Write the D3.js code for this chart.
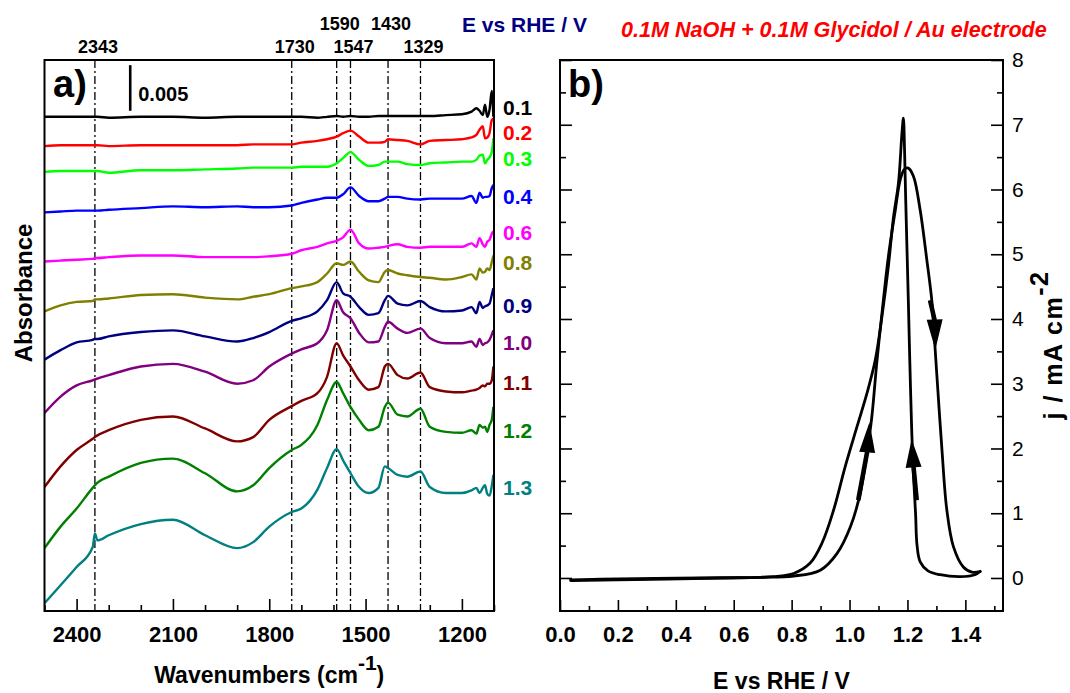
<!DOCTYPE html>
<html>
<head>
<meta charset="utf-8">
<script src="https://cdn.jsdelivr.net/npm/d3@7"></script>
<style>
  body { margin: 0; background: #fff; }
  svg { display: block; font-family: "Liberation Sans", Arial, Helvetica, sans-serif; }
</style>
</head>
<body>
<svg id="chart" width="1070" height="693"></svg>
<script>
// ---------- data : panel a (in-situ FTIR spectra, offset absorbance x10^-3) ----------
var wavenumbers = [2500,2450,2400,2350,2343,2335,2300,2200,2100,2000,1900,1850,1800,1730,1700,1650,1620,1590,1570,1547,1520,1490,1460,1440,1430,1400,1370,1329,1300,1250,1200,1170,1155,1145,1135,1128,1121,1114,1107,1102];

var s01 = [57.4,57.4,57.4,57.4,57.4,57.4,57.3,57.4,57.4,57.3,57.4,57.4,57.4,57.4,57.4,57.3,57.4,57.5,57.4,57.5,57.4,57.4,57.5,57.5,57.5,57.5,57.5,57.5,57.5,57.6,57.7,58.0,58.4,58.1,57.6,58.8,57.4,58.2,60.4,57.4];
var s02 = [54.0,54.1,54.1,54.1,54.1,54.1,54.0,54.1,54.1,54.1,54.1,54.2,54.2,54.2,54.4,54.6,54.8,55.1,55.5,55.8,55.1,54.4,54.4,54.5,54.8,54.7,54.6,54.2,54.6,54.7,54.8,55.0,55.3,55.9,56.3,54.9,55.0,55.5,57.0,57.2];
var s03 = [51.0,51.1,51.1,51.1,51.1,51.1,50.9,51.2,51.2,51.3,51.4,51.5,51.5,51.5,51.6,51.6,51.6,52.0,52.6,53.3,52.4,51.7,51.8,52.2,52.2,52.2,51.9,51.8,52.0,52.1,52.2,52.2,52.4,52.9,53.0,52.0,52.4,52.7,53.3,54.9];
var s04 = [46.3,46.4,46.5,46.5,46.5,46.5,46.6,46.8,47.0,46.9,47.0,46.9,46.9,47.1,47.4,47.8,48.0,48.0,48.4,49.2,48.2,47.6,47.6,47.9,48.1,48.1,47.9,47.8,47.9,47.9,47.9,48.2,47.4,48.6,48.0,48.1,48.1,48.2,49.1,49.5];
var s06 = [40.6,40.7,40.8,40.9,41.0,41.0,41.1,41.3,41.3,41.1,41.1,41.1,41.2,41.5,41.9,42.3,42.7,43.0,43.4,44.3,42.7,42.1,42.2,42.3,42.4,42.6,42.3,42.2,42.3,42.3,42.3,42.7,42.3,43.3,42.6,42.3,42.9,43.1,43.8,44.1];
var s08 = [34.8,35.5,35.9,36.0,36.2,36.2,36.3,36.7,36.8,36.4,36.2,36.5,36.8,37.5,37.7,38.2,39.2,40.4,40.2,40.6,39.4,38.4,38.2,39.4,39.6,39.2,39.0,38.8,38.7,38.5,38.8,39.1,38.5,39.8,39.3,39.4,39.8,39.6,40.5,41.3];
var s09 = [29.2,30.3,31.2,31.5,31.6,31.6,31.9,32.4,32.6,31.9,31.3,31.7,32.4,33.7,34.0,34.8,36.1,38.2,36.9,36.5,35.3,34.4,34.6,36.1,36.6,35.7,35.5,36.0,35.3,34.8,34.9,35.3,34.6,35.9,35.2,35.4,35.5,35.7,36.7,37.5];
var s10 = [23.0,24.9,26.2,26.8,26.9,27.0,27.4,28.4,28.7,27.8,26.4,26.8,28.4,29.9,30.4,31.1,32.6,36.1,34.7,34.0,32.3,31.2,31.3,33.0,33.6,32.8,32.3,32.8,31.7,31.1,31.1,31.3,30.7,31.6,30.9,31.1,31.2,31.5,32.1,32.6];
var s11 = [14.4,16.8,18.7,20.0,20.2,20.4,21.0,22.2,22.6,21.2,19.7,20.2,22.2,23.8,24.4,25.3,27.2,31.1,29.7,28.4,26.8,25.7,26.0,28.4,28.7,27.4,27.0,27.7,26.0,25.5,25.4,25.6,25.7,25.9,26.2,26.1,26.4,26.4,26.8,28.4];
var s12 = [7.3,9.8,11.9,14.3,14.6,14.9,15.6,17.2,17.7,16.0,13.9,14.6,16.6,18.7,19.3,21.6,24.5,26.6,25.3,23.7,22.2,21.0,21.4,23.7,24.2,22.8,22.6,23.5,21.4,20.8,20.7,21.0,20.6,21.6,21.3,21.4,20.8,21.6,22.2,23.7];
var s13 = [0.9,3.0,5.1,7.4,9.0,8.2,8.8,10.1,10.6,8.8,7.3,8.0,9.8,11.5,11.9,14.1,16.6,18.8,17.5,16.0,14.4,13.7,14.3,16.8,16.6,15.8,15.6,16.2,14.4,13.7,13.7,14.0,14.3,13.7,14.3,14.6,13.6,13.4,14.5,15.8];

var spectra = [s01,s02,s03,s04,s06,s08,s09,s10,s11,s12,s13];
var potentials = ['0.1','0.2','0.3','0.4','0.6','0.8','0.9','1.0','1.1','1.2','1.3'];
var labelLevels = [58.5,55.6,52.6,48.2,44.0,40.5,35.5,31.2,26.5,21.0,14.3];
var spectraColors = ['#000000','#ff0000','#00ff00','#0000ff','#ff00ff','#808000','#000080','#800080','#800000','#008000','#008080'];

var peakLines = [2343,1730,1590,1547,1430,1329];
var upperPeaks = [1590,1430];
var majorWn = [2400,2100,1800,1500,1200];
var minorWn = [2500,2300,2200,2000,1900,1700,1600,1400,1300,1100];

// ---------- data : panel b (cyclic voltammogram) ----------
var forwardE = [0.037,0.313,0.554,0.692,0.807,0.899,0.957,1.003,1.037,1.060,1.077,1.094,1.112,1.134,1.158,1.175,1.189,1.203,1.221,1.244,1.267,1.284,1.292,1.301,1.319,1.336,1.359,1.393,1.423,1.451];
var forwardJ = [-0.04,-0.02,0.0,0.01,0.03,0.12,0.38,0.79,1.31,1.93,2.49,3.32,4.09,4.96,5.68,6.15,6.31,6.33,6.20,5.68,4.91,4.29,3.78,3.17,1.99,1.05,0.48,0.17,0.09,0.10];
var reverseE = [1.451,1.433,1.382,1.313,1.271,1.244,1.233,1.228,1.220,1.215,1.208,1.203,1.194,1.190,1.186,1.181,1.169,1.152,1.134,1.112,1.089,1.060,1.026,0.985,0.945,0.905,0.864,0.807,0.737,0.692,0.485,0.140,0.037];
var reverseJ = [0.10,0.05,0.02,0.05,0.11,0.25,0.51,1.00,1.67,2.24,3.37,4.29,5.84,6.61,7.10,6.87,6.10,5.58,4.81,4.04,3.37,2.85,2.34,1.72,1.05,0.54,0.23,0.07,0.02,0.01,0.0,-0.02,-0.03];

// scan-direction arrows: tail start, arrow base, arrow tip (E, j)
var arrows = [
  {tail:[1.030,1.20], base:[1.061,1.95], tip:[1.068,2.36]},
  {tail:[1.232,1.20], base:[1.221,1.72], tip:[1.215,2.10]},
  {tail:[1.278,4.29], base:[1.294,3.98], tip:[1.296,3.57]}
];

var eTicks = [0,0.2,0.4,0.6,0.8,1.0,1.2,1.4];
var eMinor = [0.1,0.3,0.5,0.7,0.9,1.1,1.3,1.5];
var jTicks = [0,1,2,3,4,5,6,7,8];
var jMinor = [-0.5,0.5,1.5,2.5,3.5,4.5,5.5,6.5,7.5];

// ---------- drawing ----------
var svg = d3.select('#chart');

function styleAxis(g, size, weight){
  g.select('.domain').remove();
  g.selectAll('.tick line').attr('stroke','#000').attr('stroke-width',1.6);
  g.selectAll('.tick text').attr('fill','#000')
    .style('font-family','"Liberation Sans", Arial, sans-serif')
    .style('font-size',size+'px').style('font-weight',weight);
}

// ===== panel a =====
var xA = d3.scaleLinear().domain([2500,1100]).range([44.5,494]);
var yA = d3.scaleLinear().domain([0,64]).range([611,60]);

svg.append('clipPath').attr('id','clipA').append('rect')
  .attr('x',xA(2500)).attr('y',yA(64)).attr('width',xA(1100)-xA(2500)).attr('height',yA(0)-yA(64));

var gA = svg.append('g');

gA.selectAll('line.peak').data(peakLines).enter().append('line')
  .attr('class','peak')
  .attr('x1',d=>xA(d)).attr('x2',d=>xA(d))
  .attr('y1',yA(64)).attr('y2',yA(0))
  .attr('stroke','#000').attr('stroke-width',1.3)
  .attr('stroke-dasharray','8,3,2,3');

gA.selectAll('text.peak').data(peakLines).enter().append('text')
  .attr('class','peak')
  .attr('x',d=>xA(d)+3)
  .attr('y',d=>upperPeaks.indexOf(d)>=0 ? 30 : 53)
  .attr('text-anchor','middle')
  .style('font-size','18px').style('font-weight','bold')
  .text(d=>d);

var specLine = d3.line()
  .x((d,i)=>xA(wavenumbers[i]))
  .y(d=>yA(d))
  .curve(d3.curveMonotoneX);

gA.append('g').attr('clip-path','url(#clipA)')
  .selectAll('path').data(spectra).enter().append('path')
  .attr('d',specLine)
  .attr('fill','none')
  .attr('stroke',(d,i)=>spectraColors[i])
  .attr('stroke-width',2.4)
  .attr('stroke-linejoin','round');

gA.selectAll('text.pot').data(potentials).enter().append('text')
  .attr('class','pot')
  .attr('x',xA(1100)+9)
  .attr('y',(d,i)=>yA(labelLevels[i]))
  .attr('dy','0.36em')
  .attr('fill',(d,i)=>spectraColors[i])
  .style('font-size','21px').style('font-weight','bold')
  .text(d=>d);

// scale bar 0.005
gA.append('line')
  .attr('x1',xA(2233)).attr('x2',xA(2233))
  .attr('y1',yA(63.4)).attr('y2',yA(58.1))
  .attr('stroke','#000').attr('stroke-width',2.6);
gA.append('text').attr('x',xA(2233)+8).attr('y',101)
  .style('font-size','20px').style('font-weight','bold').text('0.005');

var axA = gA.append('g').attr('transform','translate(0,'+yA(0)+')')
  .call(d3.axisBottom(xA).tickValues(majorWn).tickSizeInner(-12).tickSizeOuter(0).tickPadding(15).tickFormat(d3.format('d')));
styleAxis(axA,22,'bold');
var axAm = gA.append('g').attr('transform','translate(0,'+yA(0)+')')
  .call(d3.axisBottom(xA).tickValues(minorWn).tickSizeInner(-6).tickSizeOuter(0).tickFormat(''));
styleAxis(axAm,22,'bold');

gA.append('rect')
  .attr('x',xA(2500)).attr('y',yA(64)).attr('width',xA(1100)-xA(2500)).attr('height',yA(0)-yA(64))
  .attr('fill','none').attr('stroke','#000').attr('stroke-width',2);

gA.append('text').attr('x',53).attr('y',97)
  .style('font-size','38px').style('font-weight','bold').text('a)');

var tA = gA.append('text').attr('x',(xA(2500)+xA(1100))/2).attr('y',683)
  .attr('text-anchor','middle').style('font-size','23px').style('font-weight','bold');
tA.append('tspan').text('Wavenumbers (cm');
tA.append('tspan').attr('dy',-13).style('font-size','21px').text('-1');
tA.append('tspan').attr('dy',13).text(')');

gA.append('text').attr('transform','translate(32,293) rotate(-90)')
  .attr('text-anchor','middle').style('font-size','24px').style('font-weight','bold').text('Absorbance');

// ===== panel b =====
var xB = d3.scaleLinear().domain([0,1.53]).range([560,1003]);
var yB = d3.scaleLinear().domain([-0.51,8]).range([611,60]);
var gB = svg.append('g');

var axBx = gB.append('g').attr('transform','translate(0,'+yB.range()[0]+')')
  .call(d3.axisBottom(xB).tickValues(eTicks).tickSizeInner(-11).tickSizeOuter(0).tickPadding(15).tickFormat(d3.format('.1f')));
styleAxis(axBx,22,'bold');
var axBxm = gB.append('g').attr('transform','translate(0,'+yB.range()[0]+')')
  .call(d3.axisBottom(xB).tickValues(eMinor).tickSizeInner(-5).tickSizeOuter(0).tickFormat(''));
styleAxis(axBxm,22,'bold');

var axBr = gB.append('g').attr('transform','translate('+xB(1.53)+',0)')
  .call(d3.axisRight(yB).tickValues(jTicks).tickSizeInner(-12).tickSizeOuter(0).tickPadding(9).tickFormat(d3.format('d')));
styleAxis(axBr,21,'normal');
var axBrm = gB.append('g').attr('transform','translate('+xB(1.53)+',0)')
  .call(d3.axisRight(yB).tickValues(jMinor).tickSizeInner(-6).tickSizeOuter(0).tickFormat(''));
styleAxis(axBrm,21,'normal');

var axBl = gB.append('g').attr('transform','translate('+xB(0)+',0)')
  .call(d3.axisLeft(yB).tickValues(jTicks).tickSizeInner(-12).tickSizeOuter(0).tickFormat(''));
styleAxis(axBl,21,'normal');
var axBlm = gB.append('g').attr('transform','translate('+xB(0)+',0)')
  .call(d3.axisLeft(yB).tickValues(jMinor).tickSizeInner(-6).tickSizeOuter(0).tickFormat(''));
styleAxis(axBlm,21,'normal');

var cvLine = d3.line()
  .x(d=>xB(d[0])).y(d=>yB(d[1]))
  .curve(d3.curveCatmullRom.alpha(0.5));

var fwd = forwardE.map((e,i)=>[e,forwardJ[i]]);
var rev = reverseE.map((e,i)=>[e,reverseJ[i]]);

gB.selectAll('path.cv').data([fwd,rev]).enter().append('path')
  .attr('class','cv')
  .attr('d',cvLine)
  .attr('fill','none').attr('stroke','#000')
  .attr('stroke-width',2.8).attr('stroke-linejoin','round').attr('stroke-linecap','round');

arrows.forEach(function(a){
  var t0 = [xB(a.tail[0]),yB(a.tail[1])],
      b = [xB(a.base[0]),yB(a.base[1])],
      p = [xB(a.tip[0]),yB(a.tip[1])];
  gB.append('line')
    .attr('x1',t0[0]).attr('y1',t0[1]).attr('x2',b[0]).attr('y2',b[1])
    .attr('stroke','#000').attr('stroke-width',4.6);
  var dx = p[0]-b[0], dy = p[1]-b[1], len = Math.sqrt(dx*dx+dy*dy);
  var nx = -dy/len*7, ny = dx/len*7;
  gB.append('path')
    .attr('d','M'+p[0]+','+p[1]+'L'+(b[0]+nx)+','+(b[1]+ny)+'L'+(b[0]-nx)+','+(b[1]-ny)+'Z')
    .attr('fill','#000').attr('stroke','#000').attr('stroke-width',1.5).attr('stroke-linejoin','miter');
});

gB.append('rect')
  .attr('x',xB(0)).attr('y',yB(8)).attr('width',xB(1.53)-xB(0)).attr('height',yB(-0.51)-yB(8))
  .attr('fill','none').attr('stroke','#000').attr('stroke-width',2);

gB.append('text').attr('x',568).attr('y',97)
  .style('font-size','38px').style('font-weight','bold').text('b)');

gB.append('text').attr('x',(xB(0)+xB(1.53))/2).attr('y',689)
  .attr('text-anchor','middle').style('font-size','23px').style('font-weight','bold').text('E vs RHE / V');

var tB = gB.append('text').attr('transform','translate(1062,345) rotate(-90)')
  .attr('text-anchor','middle').style('font-size','25px').style('font-weight','bold')
  .style('letter-spacing','1.5px');
tB.append('tspan').text('j / mA cm');
tB.append('tspan').attr('dy',-14).style('font-size','25px').text('-2');

// ===== header texts =====
svg.append('text').attr('x',462).attr('y',32)
  .attr('fill','#000080').style('font-size','21px').style('font-weight','bold').text('E vs RHE / V');
svg.append('text').attr('x',621).attr('y',37)
  .attr('fill','#ff0000').style('font-size','21.6px').style('font-weight','bold').style('font-style','italic')
  .text('0.1M NaOH + 0.1M Glycidol / Au electrode');
</script>
</body>
</html>
